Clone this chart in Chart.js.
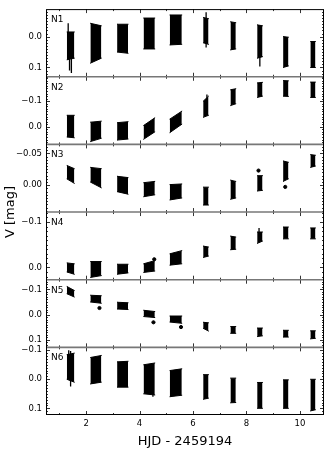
<!DOCTYPE html>
<html>
<head>
<meta charset="utf-8">
<script src="https://cdn.jsdelivr.net/npm/chart.js@4.4.0/dist/chart.umd.min.js"></script>
<style>
  body { margin: 0; background: #fff; }
</style>
</head>
<body>
<canvas id="myChart" width="332" height="453"></canvas>
<script>
// observing runs, HJD - 2459194
let nightStart = [1.28, 2.16, 3.16, 4.15, 5.13, 6.38, 7.40, 8.40, 9.37, 10.39];
let nightEnd   = [1.56, 2.57, 3.57, 4.57, 5.58, 6.58, 7.60, 8.60, 9.57, 10.58];

let panelNames = ['N1', 'N2', 'N3', 'N4', 'N5', 'N6'];

// bright and faint edge of each night's points, [start, end], V mag
let n1Top = [[-0.015,-0.015],[-0.043,-0.035],[-0.040,-0.040],[-0.060,-0.060],[-0.070,-0.070],[-0.062,-0.058],[-0.048,-0.045],[-0.038,-0.035],[0.000,0.002],[0.016,0.016]];
let n1Bot = [[0.075,0.070],[0.086,0.070],[0.050,0.054],[0.040,0.040],[0.027,0.025],[0.020,0.025],[0.043,0.040],[0.070,0.065],[0.100,0.095],[0.100,0.100]];
let n2Top = [[-0.045,-0.045],[-0.018,-0.022],[-0.016,-0.020],[-0.005,-0.035],[-0.030,-0.061],[-0.100,-0.120],[-0.145,-0.149],[-0.172,-0.174],[-0.181,-0.180],[-0.175,-0.175]];
let n2Bot = [[0.040,0.043],[0.058,0.045],[0.052,0.048],[0.049,0.020],[0.023,-0.010],[-0.037,-0.045],[-0.083,-0.090],[-0.115,-0.120],[-0.120,-0.119],[-0.115,-0.115]];
let n3Top = [[-0.031,-0.026],[-0.028,-0.026],[-0.014,-0.012],[-0.004,-0.006],[-0.001,-0.002],[0.003,0.003],[-0.008,-0.006],[-0.015,-0.015],[-0.038,-0.036],[-0.048,-0.047]];
let n3Bot = [[-0.010,-0.003],[-0.005,0.004],[0.010,0.014],[0.018,0.015],[0.023,0.020],[0.031,0.031],[0.022,0.020],[0.009,0.008],[-0.006,-0.010],[-0.028,-0.030]];
let n4Top = [[-0.010,-0.008],[-0.013,-0.013],[-0.007,-0.007],[-0.008,-0.015],[-0.030,-0.037],[-0.047,-0.045],[-0.069,-0.067],[-0.078,-0.078],[-0.089,-0.089],[-0.087,-0.087]];
let n4Bot = [[0.010,0.015],[0.022,0.018],[0.015,0.012],[0.011,0.008],[-0.005,-0.008],[-0.022,-0.025],[-0.039,-0.040],[-0.053,-0.058],[-0.063,-0.063],[-0.063,-0.063]];
let n5Top = [[-0.112,-0.096],[-0.077,-0.075],[-0.049,-0.047],[-0.017,-0.012],[0.006,0.006],[0.031,0.033],[0.048,0.048],[0.054,0.054],[0.063,0.063],[0.065,0.065]];
let n5Bot = [[-0.083,-0.070],[-0.050,-0.045],[-0.022,-0.020],[0.008,0.012],[0.030,0.035],[0.055,0.066],[0.075,0.075],[0.088,0.085],[0.090,0.090],[0.097,0.095]];
let n6Top = [[-0.085,-0.090],[-0.075,-0.082],[-0.060,-0.062],[-0.050,-0.056],[-0.030,-0.036],[-0.016,-0.016],[-0.004,-0.004],[0.011,0.011],[0.002,0.002],[0.000,0.000]];
let n6Bot = [[0.000,0.010],[0.016,0.010],[0.027,0.027],[0.050,0.054],[0.060,0.055],[0.069,0.065],[0.081,0.080],[0.100,0.100],[0.100,0.100],[0.109,0.105]];

// long error bars [x, from, to]
let n1Bars = [[1.33,-0.043,0.0],[1.45,0.05,0.118],[1.38,0.05,0.11],[6.49,-0.079,0.035],[8.5,0.05,0.097]];
let n2Bars = [[6.52,-0.126,-0.1]];
let n3Bars = [];
let n4Bars = [[8.47,-0.087,-0.07]];
let n5Bars = [];
let n6Bars = [[1.42,-0.097,0.025],[1.35,-0.1,-0.05],[4.5,0.03,0.06]];

// stray points [x, y]
let n1Dots = [];
let n2Dots = [];
let n3Dots = [[8.45,-0.023],[9.45,0.0026]];
let n4Dots = [[4.55,-0.018]];
let n5Dots = [[2.5,-0.026],[4.52,0.031],[5.55,0.05]];
let n6Dots = [];

let yMin  = [-0.089, -0.196, -0.064, -0.122, -0.139, -0.110];
let yMax  = [0.130, 0.069, 0.042, 0.027, 0.131, 0.123];
let yStep = [0.1, 0.1, 0.05, 0.1, 0.1, 0.1];
let yMinor = [0.01, 0.01, 0.005, 0.01, 0.01, 0.01];
let xTicks = [2, 4, 6, 8, 10];

let tops = [n1Top, n2Top, n3Top, n4Top, n5Top, n6Top];
let bots = [n1Bot, n2Bot, n3Bot, n4Bot, n5Bot, n6Bot];
let bars = [n1Bars, n2Bars, n3Bars, n4Bars, n5Bars, n6Bars];
let dots = [n1Dots, n2Dots, n3Dots, n4Dots, n5Dots, n6Dots];

let tickFont = {family: 'DejaVu Sans', size: 8.5};
let datasets = [];

panelNames.forEach((name, p) => {
  let id = 'y' + (p + 1);
  let up = [], low = [];
  for (let i = 0; i < nightStart.length; i++) {
    up.push({x: nightStart[i], y: tops[p][i][0]}, {x: nightEnd[i], y: tops[p][i][1]});
    low.push({x: nightStart[i], y: bots[p][i][0]}, {x: nightEnd[i], y: bots[p][i][1]});
    if (i < nightStart.length - 1) {
      let gap = (nightEnd[i] + nightStart[i + 1]) / 2;
      up.push({x: gap, y: null});
      low.push({x: gap, y: null});
    }
  }
  let look = {showLine: true, borderColor: '#000', backgroundColor: '#000', borderWidth: 1,
    borderCapStyle: 'round', borderJoinStyle: 'round', pointRadius: 0};
  datasets.push(Object.assign({data: up, yAxisID: id, fill: false}, look));
  datasets.push(Object.assign({data: low, yAxisID: id, fill: '-1'}, look));

  let seg = [];
  bars[p].forEach(b => { seg.push({x: b[0], y: b[1]}, {x: b[0], y: b[2]}, {x: b[0], y: null}); });
  datasets.push({data: seg, yAxisID: id, showLine: true, borderColor: '#000', borderWidth: 1.3,
    pointRadius: 0, fill: false});

  datasets.push({data: dots[p].map(d => ({x: d[0], y: d[1]})), yAxisID: id, showLine: false,
    pointRadius: 1.6, pointBackgroundColor: '#000', pointBorderColor: '#000'});
});

let scales = {
  x: {
    type: 'linear', position: 'bottom', min: 0.5, max: 10.9,
    grid: {display: false, drawTicks: false}, border: {display: false},
    ticks: {stepSize: 1, includeBounds: false, autoSkip: false, maxRotation: 0, padding: 4,
      color: '#000', font: tickFont,
      callback: v => xTicks.includes(v) ? String(v) : ''},
    title: {display: true, text: 'HJD - 2459194', color: '#000',
      font: {family: 'DejaVu Sans', size: 13}, padding: {top: 0, bottom: 4}},
    afterFit: s => { s.height = 38; }
  }
};
// last one defined ends up on top of the stack
for (let p = 5; p >= 0; p--) {
  scales['y' + (p + 1)] = {
    axis: 'y', type: 'linear', position: 'left', stack: 'panels', stackWeight: 1, reverse: true,
    min: yMin[p], max: yMax[p],
    grid: {display: false, drawTicks: false}, border: {display: false},
    ticks: {stepSize: yStep[p], includeBounds: false, padding: 4, color: '#000', font: tickFont,
      callback: v => {
        let s = Math.abs(v) < 1e-9 ? (0).toFixed(p === 2 ? 2 : 1) : v.toFixed(p === 2 ? 2 : 1);
        return s.replace('-', '\u2212');
      }},
    afterFit: s => { s.width = 46; }
  };
}

const frame = {
  id: 'frame',
  afterDraw(chart) {
    const ctx = chart.ctx;
    const area = chart.chartArea;
    const xs = chart.scales.x;
    ctx.save();
    ctx.strokeStyle = '#000';
    ctx.fillStyle = '#000';
    panelNames.forEach((name, i) => {
      const s = chart.scales['y' + (i + 1)];
      ctx.lineWidth = 0.8;
      ctx.beginPath();
      let k0 = Math.ceil(s.min / yMinor[i] - 1e-6), k1 = Math.floor(s.max / yMinor[i] + 1e-6);
      for (let k = k0; k <= k1; k++) {
        const v = k * yMinor[i];
        const major = Math.abs(v / yStep[i] - Math.round(v / yStep[i])) < 1e-6;
        const len = major ? 4 : 2;
        const py = Math.round(s.getPixelForValue(v)) + 0.5;
        ctx.moveTo(area.left, py); ctx.lineTo(area.left + len, py);
        ctx.moveTo(area.right, py); ctx.lineTo(area.right - len, py);
      }
      for (let v = 1; v <= 10; v++) {
        const len = xTicks.includes(v) ? 4 : 2;
        const px = Math.round(xs.getPixelForValue(v)) + 0.5;
        ctx.moveTo(px, s.top); ctx.lineTo(px, s.top + len);
        ctx.moveTo(px, s.bottom); ctx.lineTo(px, s.bottom - len);
      }
      ctx.stroke();
      ctx.font = '9px "DejaVu Sans"';
      ctx.textAlign = 'left';
      ctx.textBaseline = 'alphabetic';
      ctx.fillText(name, area.left + 5, s.top + 13);
      if (i > 0) {
        ctx.strokeStyle = '#777';
        ctx.lineWidth = 1.6;
        ctx.beginPath();
        ctx.moveTo(area.left, s.top); ctx.lineTo(area.right, s.top);
        ctx.stroke();
        ctx.strokeStyle = '#000';
      }
    });
    ctx.lineWidth = 1;
    ctx.strokeRect(area.left + 0.5, area.top + 0.5, area.right - area.left - 1, area.bottom - area.top - 1);
    ctx.translate(11, (area.top + area.bottom) / 2);
    ctx.rotate(-Math.PI / 2);
    ctx.textAlign = 'center';
    ctx.textBaseline = 'middle';
    ctx.font = '13px "DejaVu Sans"';
    ctx.fillText('V [mag]', 0, 0);
    ctx.restore();
  }
};

let myChart = new Chart(document.getElementById('myChart').getContext('2d'), {
  type: 'scatter',
  data: {datasets: datasets},
  options: {
    responsive: false,
    animation: false,
    layout: {padding: {top: 4, right: 8, left: 0, bottom: 0}},
    plugins: {legend: {display: false}, tooltip: {enabled: false}},
    scales: scales
  },
  plugins: [frame]
});
</script>
</body>
</html>
